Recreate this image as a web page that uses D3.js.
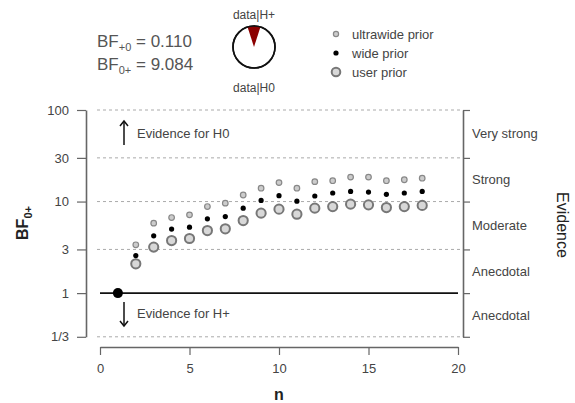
<!DOCTYPE html>
<html>
<head>
<meta charset="utf-8">
<script src="https://cdn.jsdelivr.net/npm/d3@7"></script>
<style>
  html, body { margin: 0; padding: 0; background: #fff; }
  svg { display: block; font-family: "Liberation Sans", Arial, sans-serif; }
</style>
</head>
<body>
<svg id="chart" width="575" height="403"></svg>
<script>
// Sequential Bayes factor (BF0+) as observations accumulate, for three prior widths
const nValues   = [1, 2, 3, 4, 5, 6, 7, 8, 9, 10, 11, 12, 13, 14, 15, 16, 17, 18];
const ultrawide = [1, 3.37, 5.81, 6.69, 7.16, 8.82, 9.61, 11.8, 14.0, 16.1, 14.0, 16.5, 16.9, 18.5, 18.5, 16.9, 17.3, 18.0];
const wide      = [1, 2.57, 4.22, 5.00, 5.25, 6.47, 6.86, 8.47, 10.3, 11.6, 10.1, 11.5, 12.4, 12.9, 12.7, 12.0, 12.4, 12.9];
const userPrior = [1, 2.09, 3.18, 3.75, 3.95, 4.82, 5.04, 6.20, 7.47, 8.26, 7.28, 8.47, 8.81, 9.37, 9.20, 8.60, 8.81, 9.084];

const bfPlus0 = 0.110;
const bf0Plus = 9.084;

const yTicks      = [1/3, 1, 3, 10, 30, 100];
const yTickLabels = ["1/3", "1", "3", "10", "30", "100"];
const xTicks      = [0, 5, 10, 15, 20];
const evidenceLabels = ["Very strong", "Strong", "Moderate", "Anecdotal", "Anecdotal"];

const svg = d3.select("#chart");
const textCol = "#444";

const x = d3.scaleLinear().domain([0, 20]).range([100, 458]);
const y = d3.scaleLog().domain([1/3, 100]).range([336.8, 110]);

// horizontal reference lines
const grid = svg.append("g");
grid.selectAll("line.dash")
  .data(yTicks.filter(v => v !== 1))
  .join("line")
  .attr("x1", 97).attr("x2", 460)
  .attr("y1", d => y(d)).attr("y2", d => y(d))
  .attr("stroke", "#aaa").attr("stroke-width", 1)
  .attr("stroke-dasharray", "3,3");
grid.append("line")
  .attr("x1", x(0)).attr("x2", x(20))
  .attr("y1", y(1)).attr("y2", y(1))
  .attr("stroke", "#111").attr("stroke-width", 1.8);

// left axis
const yAxis = svg.append("g")
  .attr("transform", "translate(86,0)")
  .call(d3.axisLeft(y).tickValues(yTicks)
    .tickFormat((d, i) => yTickLabels[i])
    .tickSize(9).tickSizeOuter(0).tickPadding(8));
yAxis.select(".domain").attr("stroke", "#666").attr("stroke-width", 1.6);
yAxis.selectAll(".tick line").attr("stroke", "#666").attr("stroke-width", 1.2);
yAxis.selectAll(".tick text").attr("font-size", 13).attr("fill", textCol)
  .attr("font-family", "Liberation Sans, Arial, sans-serif");

// right axis with evidence categories
const rAxis = svg.append("g")
  .attr("transform", "translate(463,0)")
  .call(d3.axisRight(y).tickValues(yTicks).tickFormat("")
    .tickSize(7).tickSizeOuter(0));
rAxis.select(".domain").attr("stroke", "#666").attr("stroke-width", 1.6);
rAxis.selectAll(".tick line").attr("stroke", "#666").attr("stroke-width", 1.2);

const bands = [];
for (let i = yTicks.length - 1; i > 0; i--) {
  bands.push(Math.sqrt(yTicks[i] * yTicks[i - 1]));
}
svg.append("g").selectAll("text")
  .data(bands)
  .join("text")
  .attr("x", 472).attr("y", d => y(d))
  .attr("dy", "0.35em")
  .attr("font-size", 13).attr("fill", textCol)
  .text((d, i) => evidenceLabels[i]);

svg.append("text")
  .attr("transform", "translate(557,225) rotate(90)")
  .attr("text-anchor", "middle")
  .attr("font-size", 16).attr("fill", "#222")
  .text("Evidence");

// bottom axis
const xAxis = svg.append("g")
  .attr("transform", "translate(0,347)")
  .call(d3.axisBottom(x).tickValues(xTicks).tickSize(8).tickSizeOuter(0).tickPadding(9));
xAxis.select(".domain").attr("stroke", "#666").attr("stroke-width", 1.4);
xAxis.selectAll(".tick line").attr("stroke", "#666").attr("stroke-width", 1.2);
xAxis.selectAll(".tick text").attr("font-size", 13).attr("fill", textCol)
  .attr("font-family", "Liberation Sans, Arial, sans-serif");

svg.append("text")
  .attr("x", 279).attr("y", 400)
  .attr("text-anchor", "middle")
  .attr("font-size", 16).attr("font-weight", "bold").attr("fill", "#222")
  .text("n");

// y axis title
const yTitle = svg.append("text")
  .attr("transform", "translate(28,223) rotate(-90)")
  .attr("text-anchor", "middle")
  .attr("font-size", 16).attr("font-weight", "bold").attr("fill", "#222");
yTitle.append("tspan").text("BF");
yTitle.append("tspan").attr("font-size", 11).attr("dy", 4).text("0+");

// evidence direction arrows
function arrow(x0, yFrom, yTo) {
  const g = svg.append("g").attr("stroke", "#111").attr("stroke-width", 1.5).attr("fill", "none");
  g.append("line").attr("x1", x0).attr("x2", x0).attr("y1", yFrom).attr("y2", yTo);
  const s = yTo < yFrom ? 1 : -1;
  g.append("path").attr("d", `M${x0 - 4},${yTo + 5 * s} L${x0},${yTo} L${x0 + 4},${yTo + 5 * s}`);
}
arrow(124, 145, 121);
arrow(124, 302, 326);
svg.append("text").attr("x", 137).attr("y", 133).attr("dy", "0.35em")
  .attr("font-size", 13).attr("fill", textCol).text("Evidence for H0");
svg.append("text").attr("x", 137).attr("y", 313).attr("dy", "0.35em")
  .attr("font-size", 13).attr("fill", textCol).text("Evidence for H+");

// points
const rows = nValues.map((n, i) => ({ n, uw: ultrawide[i], w: wide[i], u: userPrior[i] }));
const later = rows.filter(d => d.n > 1);
const pts = svg.append("g");
pts.selectAll("circle.user").data(later).join("circle")
  .attr("cx", d => x(d.n)).attr("cy", d => y(d.u)).attr("r", 4.6)
  .attr("fill", "#d8d8d8").attr("stroke", "#777").attr("stroke-width", 2);
pts.selectAll("circle.wide").data(later).join("circle")
  .attr("cx", d => x(d.n)).attr("cy", d => y(d.w)).attr("r", 2.6)
  .attr("fill", "#000");
pts.selectAll("circle.uw").data(later).join("circle")
  .attr("cx", d => x(d.n)).attr("cy", d => y(d.uw)).attr("r", 2.8)
  .attr("fill", "#ccc").attr("stroke", "#888").attr("stroke-width", 1.2);
// starting point shared by all priors
pts.selectAll("circle.start").data(rows.filter(d => d.n === 1)).join("circle")
  .attr("cx", d => x(d.n)).attr("cy", d => y(d.u)).attr("r", 5)
  .attr("fill", "#000");

// Bayes factor summary
function bfText(yPos, sub, val) {
  const t = svg.append("text").attr("x", 97).attr("y", yPos)
    .attr("font-size", 17).attr("fill", "#555");
  t.append("tspan").text("BF");
  t.append("tspan").attr("font-size", 11).attr("dy", 4).text(sub);
  t.append("tspan").attr("dy", -4).text(" = " + val.toFixed(3));
}
bfText(47, "+0", bfPlus0);
bfText(70, "0+", bf0Plus);

// probability wheel
const pH1 = bfPlus0 / (1 + bfPlus0);
const pieG = svg.append("g").attr("transform", "translate(254,47)");
const arc = d3.arc().innerRadius(0).outerRadius(21);
pieG.append("circle").attr("r", 21).attr("fill", "#fff").attr("stroke", "#111").attr("stroke-width", 1.6);
pieG.append("path")
  .attr("d", arc({ startAngle: -Math.PI * pH1, endAngle: Math.PI * pH1 }))
  .attr("fill", "#8b0000");
pieG.append("circle").attr("r", 21).attr("fill", "none").attr("stroke", "#111").attr("stroke-width", 1.6);
svg.append("text").attr("x", 254).attr("y", 15).attr("dy", "0.35em").attr("text-anchor", "middle")
  .attr("font-size", 12).attr("fill", textCol).text("data|H+");
svg.append("text").attr("x", 254).attr("y", 88).attr("dy", "0.35em").attr("text-anchor", "middle")
  .attr("font-size", 12).attr("fill", textCol).text("data|H0");

// legend
const legend = svg.append("g");
const legendRows = [
  { label: "ultrawide prior", y: 34 },
  { label: "wide prior", y: 53 },
  { label: "user prior", y: 72 }
];
legend.append("circle").attr("cx", 336).attr("cy", 34).attr("r", 2.6)
  .attr("fill", "#ccc").attr("stroke", "#888").attr("stroke-width", 1.2);
legend.append("circle").attr("cx", 336).attr("cy", 53).attr("r", 2.6).attr("fill", "#000");
legend.append("circle").attr("cx", 336).attr("cy", 72).attr("r", 4.3)
  .attr("fill", "#d8d8d8").attr("stroke", "#777").attr("stroke-width", 2);
legend.selectAll("text").data(legendRows).join("text")
  .attr("x", 352).attr("y", d => d.y).attr("dy", "0.35em")
  .attr("font-size", 13).attr("fill", textCol).text(d => d.label);
</script>
</body>
</html>
